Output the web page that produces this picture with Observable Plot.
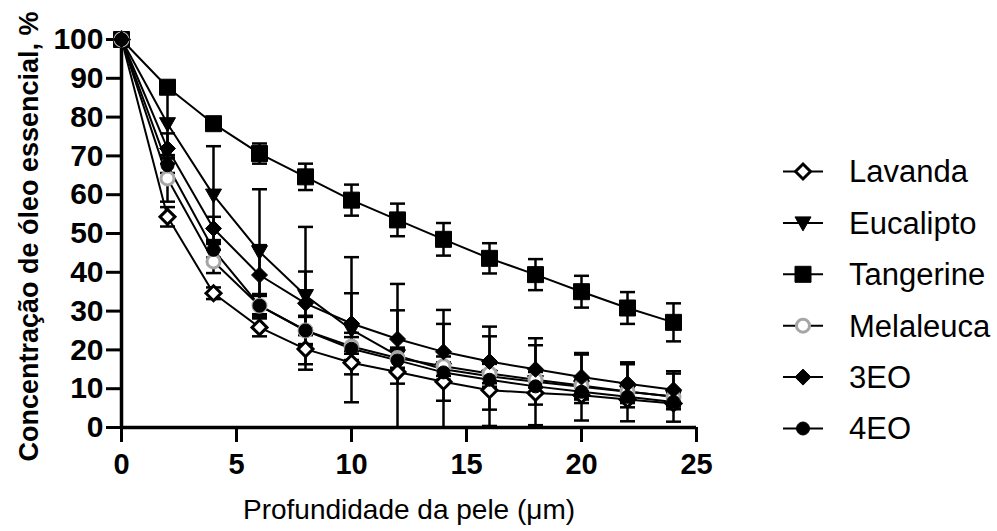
<!DOCTYPE html>
<html><head><meta charset="utf-8">
<script src="https://cdn.jsdelivr.net/npm/d3@7"></script>
<script src="https://cdn.jsdelivr.net/npm/@observablehq/plot@0.6"></script>
<style>html,body{margin:0;padding:0;background:#fff;} #chart{width:997px;height:531px;}</style>
</head><body><div id="chart"></div>
<script>
// ---- data ----
const depth = [0, 2, 4, 6, 8, 10, 12, 14, 16, 18, 20, 22, 24];
const seriesNames = ["Lavanda", "Eucalipto", "Tangerine", "Melaleuca", "3EO", "4EO"];
const lavanda      = [100, 54.3, 34.6, 25.8, 20.2, 16.7, 14.3, 11.8, 9.6, 8.9, 8.3, 7.2, 6.2];
const lavandaErr   = [0, 2.5, 1.5, 2.3, 5.3, 3.0, 3.0, 4.9, 5.0, 3.0, 2.0, 2.0, 1.5];
const eucalipto    = [100, 78.3, 59.9, 45.3, 34.0, 25.2, 18.5, 15.0, 13.2, 11.8, 10.5, 9.2, 8.0];
const eucaliptoErr = [0, 9.0, 12.6, 16.1, 17.7, 18.7, 18.5, 15.3, 12.8, 11.2, 8.7, 7.6, 6.5];
const tangerine    = [100, 87.7, 78.3, 70.6, 64.6, 58.6, 53.5, 48.5, 43.6, 39.4, 35.0, 30.8, 27.1];
const tangerineErr = [0, 1.0, 1.0, 2.6, 3.4, 4.0, 4.2, 4.2, 3.9, 4.0, 4.1, 4.1, 4.9];
const melaleuca    = [100, 64.2, 42.8, 31.4, 25.0, 20.9, 17.9, 15.8, 13.9, 12.3, 10.8, 9.3, 7.9];
const melaleucaErr = [0, 6.0, 3.0, 2.5, 3.8, 3.5, 2.7, 2.5, 2.5, 2.0, 1.5, 1.2, 1.0];
const eo3          = [100, 71.9, 51.3, 39.3, 32.0, 26.8, 22.8, 19.5, 17.0, 15.0, 13.0, 11.3, 9.7];
const eo3Err       = [0, 3.9, 3.0, 7.7, 8.2, 7.8, 7.4, 7.2, 6.5, 6.2, 5.8, 5.0, 4.2];
const eo4          = [100, 67.6, 45.8, 31.4, 25.0, 20.3, 17.3, 14.2, 12.3, 10.6, 9.2, 7.9, 6.6];
const eo4Err       = [0, 2.0, 2.0, 3.0, 3.5, 3.0, 3.0, 2.5, 2.0, 2.0, 1.8, 1.5, 1.2];
const xTicks = [0, 5, 10, 15, 20, 25];
const yTicks = [0, 10, 20, 30, 40, 50, 60, 70, 80, 90, 100];
const xTitle = "Profundidade da pele (μm)";
const yTitle = "Concentração de óleo essencial, %";

const values = {Lavanda: lavanda, Eucalipto: eucalipto, Tangerine: tangerine, Melaleuca: melaleuca, "3EO": eo3, "4EO": eo4};
const errors = {Lavanda: lavandaErr, Eucalipto: eucaliptoErr, Tangerine: tangerineErr, Melaleuca: melaleucaErr, "3EO": eo3Err, "4EO": eo4Err};

const data = seriesNames.flatMap(s => depth.map((x, i) => ({
  series: s, x, y: values[s][i], err: errors[s][i],
  lo: Math.max(0, values[s][i] - errors[s][i]), hi: values[s][i] + errors[s][i]
})));
const errData = data.filter(d => d.err > 0);

// ---- symbols ----
const poly = pts => ({draw(c) { c.moveTo(pts[0][0], pts[0][1]); for (const p of pts.slice(1)) c.lineTo(p[0], p[1]); c.closePath(); }});
const circ = r => ({draw(c) { c.moveTo(r, 0); c.arc(0, 0, r, 0, 2 * Math.PI); c.closePath(); }});
const capSym = {draw(c) { c.moveTo(-7.5, 0); c.lineTo(7.5, 0); }};
const styles = {
  Lavanda:   {symbol: poly([[0,-7.5],[7.5,0],[0,7.5],[-7.5,0]]), fill: "white", stroke: "black", strokeWidth: 3},
  Eucalipto: {symbol: poly([[-8,-6],[8,-6],[0,8]]), fill: "black", stroke: "black", strokeWidth: 1},
  Tangerine: {symbol: poly([[-8,-8],[8,-8],[8,8],[-8,8]]), fill: "black", stroke: "black", strokeWidth: 1},
  Melaleuca: {symbol: circ(6.5), fill: "white", stroke: "#a6a6a6", strokeWidth: 3},
  "3EO":     {symbol: poly([[0,-8],[8,0],[0,8],[-8,0]]), fill: "black", stroke: "black", strokeWidth: 1},
  "4EO":     {symbol: circ(6.5), fill: "black", stroke: "black", strokeWidth: 1}
};

const font = "'Liberation Sans', Arial, sans-serif";

const plot = Plot.plot({
  width: 997, height: 531,
  marginLeft: 121, marginRight: 301, marginTop: 39, marginBottom: 104,
  x: {domain: [0, 25]},
  y: {domain: [0, 100]},
  style: {fontFamily: font, background: "white", color: "black"},
  marks: [
    Plot.axisY({ticks: yTicks, tickSize: 15, tickPadding: 3, fontSize: 30, fontWeight: "bold", strokeWidth: 3, label: null}),
    Plot.axisX({ticks: xTicks, tickSize: 15, tickPadding: 11, fontSize: 29, fontWeight: "bold", strokeWidth: 3, label: null}),
    Plot.ruleX([0], {strokeWidth: 3.5}),
    Plot.ruleY([0], {strokeWidth: 3.5}),
    Plot.line(data, {x: "x", y: "y", z: "series", stroke: "black", strokeWidth: 2}),
    Plot.ruleX(errData, {x: "x", y1: "lo", y2: "hi", stroke: "black", strokeWidth: 2.5}),
    Plot.dot(errData, {x: "x", y: "hi", symbol: capSym, r: 5, fill: "none", stroke: "black", strokeWidth: 2.5}),
    Plot.dot(errData.filter(d => d.lo > 0), {x: "x", y: "lo", symbol: capSym, r: 5, fill: "none", stroke: "black", strokeWidth: 2.5}),
    ...seriesNames.map(s => Plot.dot(data.filter(d => d.series === s), {x: "x", y: "y", r: 5, ...styles[s]})),
    Plot.text([xTitle], {frameAnchor: "bottom", text: d => d, dy: 83, fontSize: 28, lineAnchor: "middle"}),
    Plot.text([yTitle], {frameAnchor: "left", textAnchor: "middle", text: d => d, rotate: -90, dx: -92.6, dy: 3, fontSize: 27, fontWeight: "bold", lineAnchor: "middle"})
  ]
});
document.getElementById("chart").appendChild(plot);

// ---- legend ----
const svg = d3.select(plot);
const lg = svg.append("g").attr("font-family", font).attr("text-anchor", "start");
seriesNames.forEach((s, i) => {
  const y = 171.5 + i * 51.4;
  const g = lg.append("g").attr("transform", `translate(0,${y})`);
  g.append("line").attr("x1", 783).attr("x2", 823).attr("stroke", "black").attr("stroke-width", 2);
  const st = styles[s];
  g.append("path").attr("transform", "translate(803,0)")
    .attr("d", d3.symbol(st.symbol, 64)())
    .attr("fill", st.fill).attr("stroke", st.stroke).attr("stroke-width", st.strokeWidth);
  g.append("text").attr("x", 849).attr("dy", "0.35em").attr("font-size", 31)
    .attr("text-anchor", "start").attr("fill", "black").text(s);
});
</script>
</body></html>
